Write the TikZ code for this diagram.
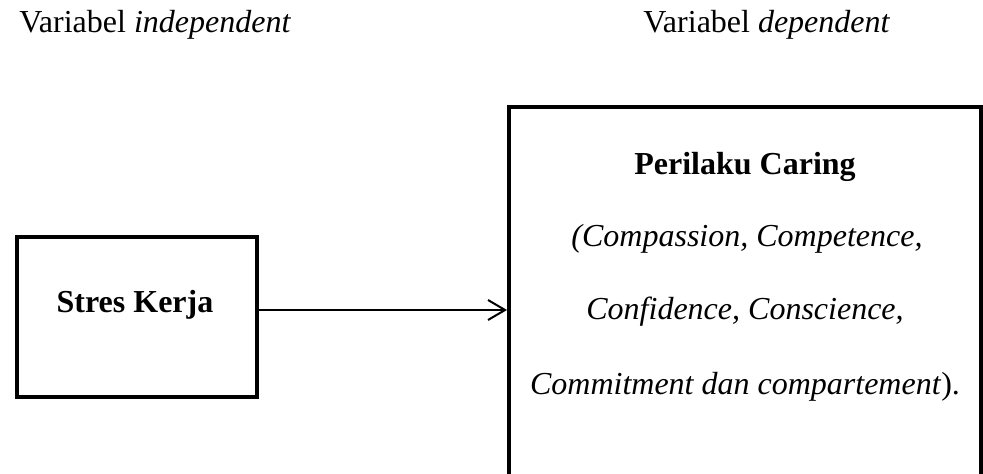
\documentclass[tikz,border=0pt]{standalone}
\usepackage{fontspec}
\setmainfont{Liberation Serif}
\usetikzlibrary{arrows.meta,positioning,calc}

\begin{document}
\begin{tikzpicture}[x=0.5pt,y=-0.5pt,>={Straight Barb[length=8.5pt,width=10pt]},
    every node/.style={font=\fontsize{16pt}{19pt}\selectfont, inner sep=0pt},
    varbox/.style={draw=black, line width=2pt, rectangle, anchor=north west}]

      % frame with the margins
      \useasboundingbox (0,0) rectangle (983,474);

      % headings
      \node [anchor=base west, name=indep] at (19,33) {Variabel \textit{independent}};
      \node [anchor=base west, name=dep] at (643,33) {Variabel \textit{dependent}};

      % boxes
      \node [varbox, minimum width=120pt, minimum height=80pt, name=kerja] at (15,235) {};
      \node [varbox, minimum width=236pt, minimum height=200pt, name=caring] at (507,105) {};

      % texts in the boxes
      \node [anchor=base, name=kerjatxt] at (135,313) {\textbf{Stres Kerja}};
      \node [anchor=base, name=caring1] at (745,175) {\textbf{Perilaku Caring}};
      \node [anchor=base, name=caring2] at (747,247) {\textit{(Compassion, Competence,}};
      \node [anchor=base, name=caring3] at (745,320) {\textit{Confidence, Conscience,}};
      \node [anchor=base, name=caring4] at (745,395) {\textit{Commitment dan compartement}).};

      % connection
      \coordinate (start) at ([yshift=3.5pt]kerja.east);
      \draw [->, line width=1pt] (start) -- (start -| caring.west);

\end{tikzpicture}
\end{document}
